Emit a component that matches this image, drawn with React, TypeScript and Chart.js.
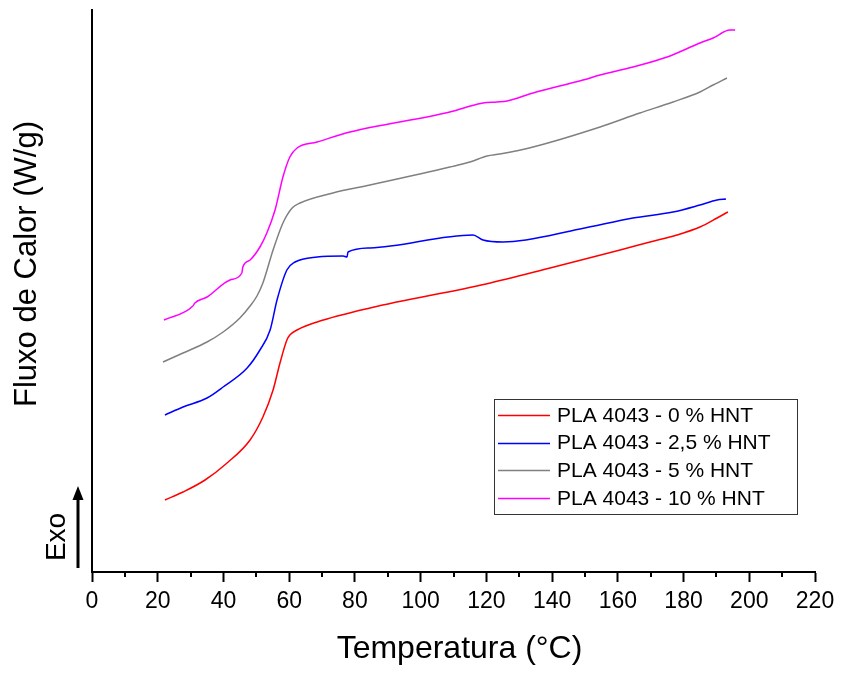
import React, { useEffect, useRef } from "react";
import { Chart, registerables } from "chart.js";

Chart.register(...registerables);

const FONT = "'Liberation Sans', Arial, sans-serif";

const seriesLabels = [
  "PLA 4043 - 0 % HNT",
  "PLA 4043 - 2,5 % HNT",
  "PLA 4043 - 5 % HNT",
  "PLA 4043 - 10 % HNT",
];
const seriesColors = ["#ff0000", "#0000ff", "#808080", "#ff00ff"];

const xTicks = [0, 20, 40, 60, 80, 100, 120, 140, 160, 180, 200, 220];
const xTitle = "Temperatura (°C)";
const yTitle = "Fluxo de Calor (W/g)";

// Temperature (°C) and heat flow (arbitrary units, exo up)
const redT = [22.2, 27.7, 34.4, 41.1, 48.1, 52.0, 55.1, 57.2, 59.3, 60.2, 62.4, 68.5, 84.6, 119.9, 139.4, 160.7, 169.8, 178.0, 185.0, 190.2, 193.5];
const redY = [72, 80, 92, 109, 132, 155, 182, 209, 232, 237, 242, 250, 264, 288, 304, 322, 330, 337, 345, 354, 360];

const blueT = [22.2, 27.7, 35.0, 39.9, 47.2, 51.1, 54.2, 56.3, 59.3, 61.8, 68.5, 76.4, 77.6, 77.9, 84.6, 115.9, 119.0, 125.1, 148.5, 164.6, 176.8, 185.0, 190.2, 192.9];
const blueY = [157, 165, 174, 185, 204, 222, 242, 272, 302, 310, 315, 316, 315, 320, 324, 337, 332, 330, 343, 354, 360, 367, 372, 373];

const grayT = [21.6, 27.7, 35.0, 39.9, 45.0, 48.1, 50.2, 52.0, 55.1, 58.1, 60.9, 63.3, 73.3, 84.6, 108.9, 115.0, 120.2, 124.1, 134.2, 154.6, 166.7, 176.8, 185.0, 189.0, 193.2];
const grayY = [210, 219, 230, 240, 254, 266, 276, 289, 322, 349, 364, 369, 379, 387, 405, 410, 416, 418, 425, 445, 459, 470, 480, 487, 494];

const pinkT = [21.9, 30.7, 31.3, 35.0, 42.0, 45.6, 45.9, 48.1, 51.1, 53.2, 55.7, 58.1, 60.2, 62.4, 68.5, 78.5, 108.9, 114.1, 119.0, 123.2, 126.3, 134.2, 149.4, 154.6, 164.6, 175.0, 185.0, 189.0, 194.1, 195.7];
const pinkY = [252, 266, 269, 275, 292, 299, 305, 312, 325, 339, 362, 395, 415, 424, 430, 440, 460, 465, 469, 470, 471, 479, 492, 497, 505, 515, 529, 534, 542, 542];

const seriesT = [redT, blueT, grayT, pinkT];
const seriesY = [redY, blueY, grayY, pinkY];

const overlayPlugin = {
  id: "overlay",
  afterDraw(chart: any) {
    const ctx = chart.ctx as CanvasRenderingContext2D;
    const xs = chart.scales.x;
    const area = chart.chartArea;
    ctx.save();
    // minor ticks
    ctx.strokeStyle = "#000";
    ctx.lineWidth = 2;
    for (let v = 10; v < 220; v += 20) {
      const px = Math.round(xs.getPixelForValue(v));
      ctx.beginPath();
      ctx.moveTo(px, area.bottom);
      ctx.lineTo(px, area.bottom + 5);
      ctx.stroke();
    }
    ctx.fillStyle = "#000";
    ctx.textAlign = "center";
    ctx.textBaseline = "middle";
    // x title
    ctx.font = `32px ${FONT}`;
    ctx.fillText(xTitle, 459.5, 649);
    // y title
    ctx.font = `31px ${FONT}`;
    ctx.save();
    ctx.translate(27.5, 264);
    ctx.rotate(-Math.PI / 2);
    ctx.fillText(yTitle, 0, 0);
    ctx.restore();
    // Exo
    ctx.font = `28px ${FONT}`;
    ctx.save();
    ctx.translate(57, 537);
    ctx.rotate(-Math.PI / 2);
    ctx.fillText("Exo", 0, 0);
    ctx.restore();
    // arrow
    ctx.lineWidth = 3;
    ctx.beginPath();
    ctx.moveTo(78, 568);
    ctx.lineTo(78, 497);
    ctx.stroke();
    ctx.beginPath();
    ctx.moveTo(78, 486);
    ctx.lineTo(72.5, 500);
    ctx.lineTo(83.5, 500);
    ctx.closePath();
    ctx.fill();
    // legend
    ctx.lineWidth = 1;
    ctx.strokeStyle = "#333";
    ctx.strokeRect(494.5, 399.5, 303, 115);
    ctx.font = `21px ${FONT}`;
    ctx.textAlign = "left";
    ctx.textBaseline = "middle";
    for (let i = 0; i < 4; i++) {
      const y = 415 + i * 27.7;
      ctx.strokeStyle = seriesColors[i];
      ctx.lineWidth = 1.5;
      ctx.beginPath();
      ctx.moveTo(498, Math.round(y) + 0.5);
      ctx.lineTo(550, Math.round(y) + 0.5);
      ctx.stroke();
      ctx.fillStyle = "#000";
      ctx.fillText(seriesLabels[i], 557, y + 1);
    }
    ctx.restore();
  },
};

export default function App() {
  const ref = useRef<HTMLCanvasElement | null>(null);
  useEffect(() => {
    if (!ref.current) return;
    const datasets = seriesLabels.map((label, i) => ({
      label,
      data: seriesT[i].map((t, j) => ({ x: t, y: seriesY[i][j] })),
      borderColor: seriesColors[i],
      backgroundColor: seriesColors[i],
      borderWidth: 1.5,
      pointRadius: 0,
      cubicInterpolationMode: "monotone" as const,
      fill: false,
    }));
    const chart = new Chart(ref.current, {
      type: "line",
      data: { datasets },
      options: {
        animation: false,
        responsive: false,
        maintainAspectRatio: false,
        layout: { padding: { left: 92, top: 10, right: 26, bottom: 5 } },
        plugins: { legend: { display: false }, tooltip: { enabled: false } },
        scales: {
          x: {
            type: "linear",
            min: 0,
            max: 220,
            afterBuildTicks: (s: any) => {
              s.ticks = xTicks.map((v) => ({ value: v }));
            },
            ticks: {
              color: "#000",
              font: { family: FONT, size: 23 },
              padding: 6,
              maxRotation: 0,
            },
            grid: {
              drawOnChartArea: false,
              drawTicks: true,
              tickLength: 10,
              tickWidth: 2,
              tickColor: "#000",
            },
            border: { display: true, color: "#000", width: 2 },
            title: {
              display: true,
              text: xTitle,
              color: "rgba(0,0,0,0)",
              font: { family: FONT, size: 32 },
              padding: { top: 8, bottom: 0 },
            },
          },
          y: {
            type: "linear",
            min: 0,
            max: 562,
            ticks: { display: false },
            grid: { drawOnChartArea: false, drawTicks: false },
            border: { display: true, color: "#000", width: 2 },
          },
        },
      },
      plugins: [overlayPlugin],
    });
    return () => chart.destroy();
  }, []);
  return (
    <div style={{ position: "fixed", left: 0, top: 0, width: 841, height: 673, background: "#fff" }}>
      <canvas ref={ref} width={841} height={673} />
    </div>
  );
}
